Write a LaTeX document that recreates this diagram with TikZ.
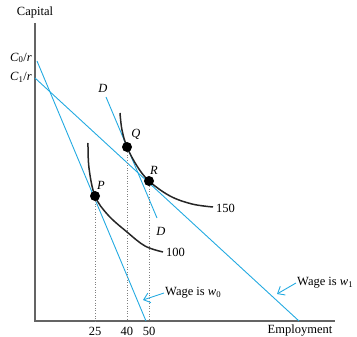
\documentclass[tikz,border=0pt]{standalone}
\usepackage{fontspec}
\setmainfont{Liberation Serif}
\usetikzlibrary{arrows.meta}
\definecolor{lblue}{RGB}{35,170,225}
\definecolor{axgray}{RGB}{100,100,100}
\begin{document}
\begin{tikzpicture}[x=1pt,y=-1pt,
  every node/.style={font=\fontsize{12.5}{14}\selectfont, inner sep=0pt},
  axisline/.style={axgray, line width=1.2pt},
  budget/.style={lblue, line width=0.9pt},
  isoq/.style={black!85, line width=1.5pt},
  guide/.style={gray, dotted, line width=0.6pt},
  pt/.style={circle, fill=black, minimum size=10pt, inner sep=0pt},
  callout/.style={lblue, line width=0.9pt, -{Straight Barb[length=6pt,width=10pt]}}]
\useasboundingbox (0,0) rectangle (357,337);
% axes
\coordinate (O) at (35,321);
\coordinate (ytop) at (35,23);
\coordinate (xend) at (335,321);
\draw[axisline] (ytop) -- (O) -- (xend);
\node (cap) at (35,12) {Capital};
\node (emp) at (300,331) {Employment};
% budget lines
\coordinate (c0) at (37,61);
\coordinate (c0b) at (146,321);
\coordinate (c1) at (35,78);
\coordinate (c1b) at (299,321);
\draw[budget] (c0) -- (c0b);
\draw[budget] (c1) -- (c1b);
\node[anchor=east] (lc0) at (32,58) {\textit{C}\textsubscript{0}/\textit{r}};
\node[anchor=east] (lc1) at (32,77) {\textit{C}\textsubscript{1}/\textit{r}};
% DD line
\coordinate (d1) at (106,97);
\coordinate (d2) at (157,218);
\draw[budget] (d1) -- (d2);
\node (ld1) at (103,88) {\textit{D}};
\node (ld2) at (161,231) {\textit{D}};
% isoquants
\draw[isoq] plot[smooth, tension=0.6] coordinates {(120,113) (122,130) (127,147) (137,166) (149,181) (170,196) (192,204) (213,207)};
\draw[isoq] plot[smooth, tension=0.6] coordinates {(88,143) (89,168) (95,196) (108,215) (127,232) (145,246) (163,252)};
\node[anchor=west] (l150) at (216,208) {150};
\node[anchor=west] (l100) at (166,252) {100};
% points
\node[pt] (P) at (95,196) {};
\node[pt] (Q) at (127,147) {};
\node[pt] (R) at (149,181) {};
\node (lP) at (101,185) {\textit{P}};
\node (lQ) at (136,134) {\textit{Q}};
\node (lR) at (154,170) {\textit{R}};
% guides
\coordinate (gP) at (95,321);
\coordinate (gQ) at (127,321);
\coordinate (gR) at (149,321);
\draw[guide] (P) -- (gP);
\draw[guide] (Q) -- (gQ);
\draw[guide] (R) -- (gR);
\node (t25) at (95,331) {25};
\node (t40) at (127,331) {40};
\node (t50) at (149,331) {50};
% callouts
\node[anchor=west] (w0) at (165,293) {Wage is \textit{w}\textsubscript{0}};
\node[anchor=west] (w1) at (297,283) {Wage is \textit{w}\textsubscript{1}};
\coordinate (a0) at (143,300);
\coordinate (a1) at (277,294);
\draw[callout] (w0.west) ++(-1,0) -- (a0);
\draw[callout] (w1.west) ++(-1,0) -- (a1);
\end{tikzpicture}
\end{document}
